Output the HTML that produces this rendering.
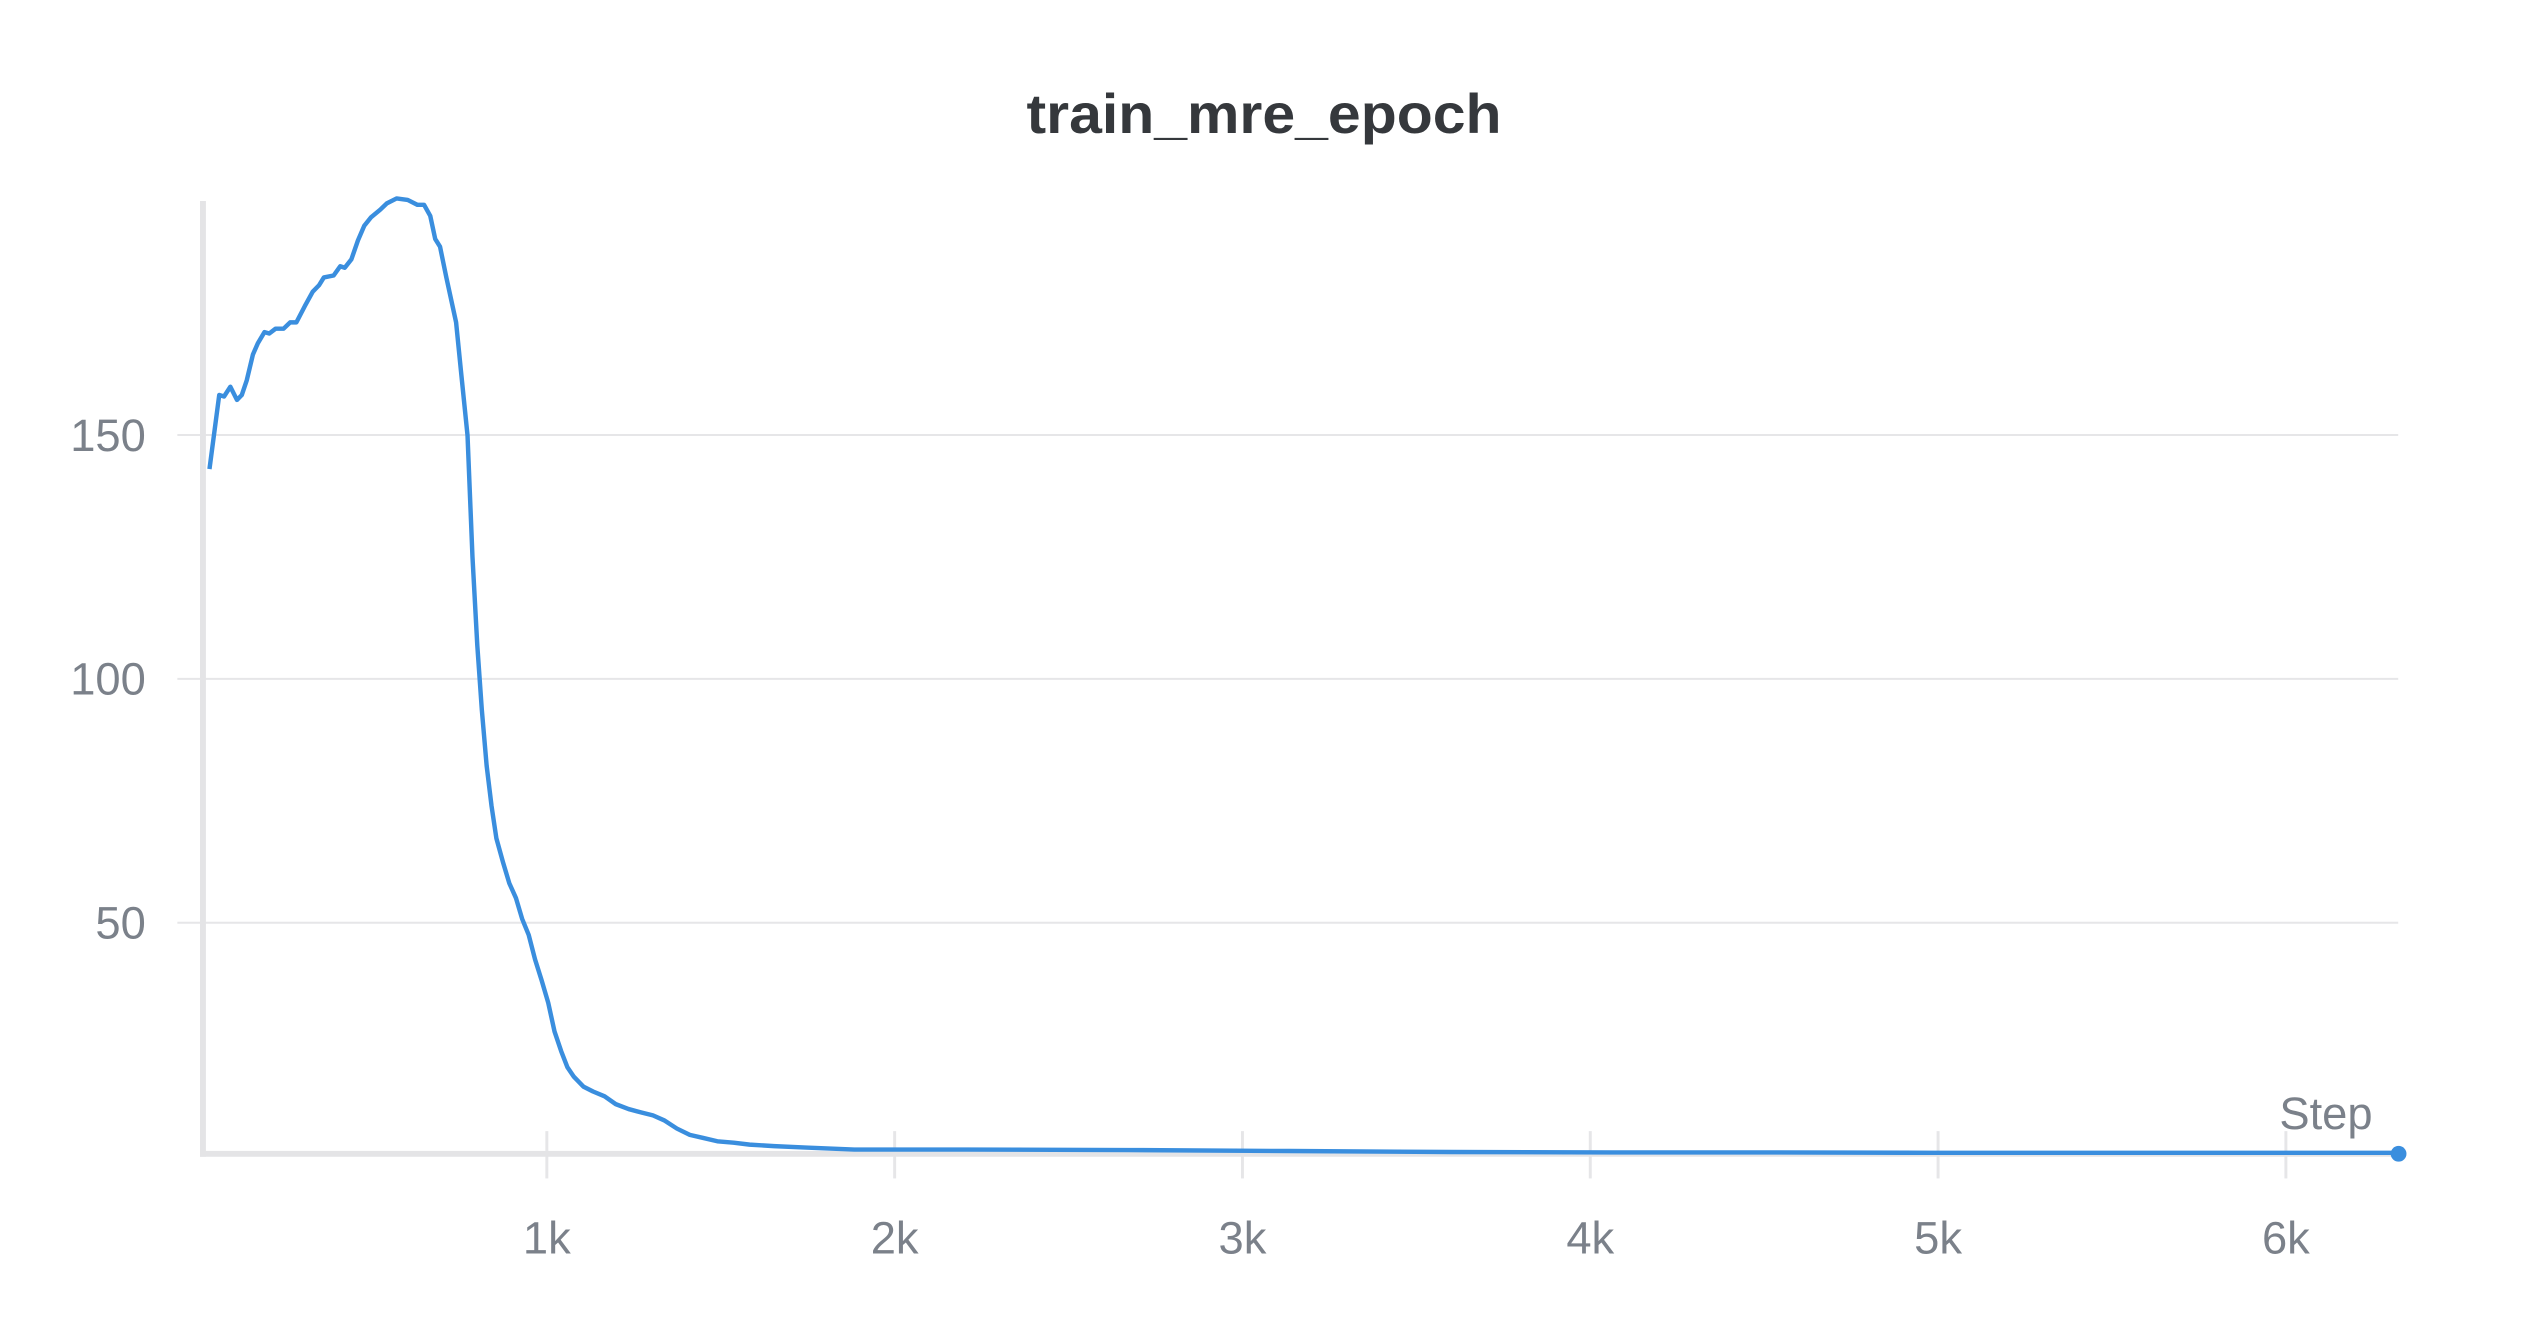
<!DOCTYPE html>
<html><head><meta charset="utf-8"><style>
html,body{margin:0;padding:0;background:#fff;}
svg{display:block;font-family:"Liberation Sans",sans-serif;}
</style></head><body>
<svg id="chart" width="2528" height="1328" viewBox="0 0 2528 1328" xmlns="http://www.w3.org/2000/svg">
<text x="1264" y="133" text-anchor="middle" font-size="56" font-weight="bold" fill="#35383c" textLength="475" lengthAdjust="spacingAndGlyphs">train_mre_epoch</text>
<g transform="scale(0.9853)">
<g id="grid"></g>
<g id="axes"></g>
<g id="series"></g>
</g>
</svg>
<script>
const steps = [30,58,72,90,109,123,137,155,169,188,202,220,243,262,280,304,327,345,359,387,406,419,438,457,475,494,521,540,568,600,628,647,665,679,693,711,739,753,772,786,800,813,827,841,855,874,892,911,929,948,966,985,1004,1022,1041,1059,1078,1105,1133,1166,1198,1235,1272,1305,1337,1374,1411,1448,1490,1537,1583,1653,1745,1884,2209,2672,3136,3599,4063,4526,4990,5453,5917,6324];
const values = [143.0,158.2,157.9,159.9,157.2,158.2,161.2,166.5,168.8,171.1,170.8,171.8,171.8,173.1,173.1,176.4,179.4,180.7,182.3,182.7,184.6,184.3,186.0,189.9,192.9,194.6,196.2,197.5,198.5,198.2,197.2,197.2,194.9,190.2,188.6,182.3,173.1,163.2,149.9,125.1,106.9,93.7,82.2,73.9,67.3,62.4,58.1,55.1,50.8,47.5,42.5,38.2,33.6,27.7,23.7,20.4,18.4,16.4,15.4,14.4,12.8,11.8,11.1,10.5,9.5,7.8,6.5,5.9,5.2,4.9,4.5,4.2,3.9,3.5,3.5,3.4,3.2,3.0,2.9,2.9,2.8,2.7,2.7,2.5];
const yTicks = [50,100,150];
const xTicks = [1000,2000,3000,4000,5000,6000];
const xTickLabels = ["1k","2k","3k","4k","5k","6k"];

const NS="http://www.w3.org/2000/svg";
function X(s){return 202 + s*0.353;}
function Y(v){return 1184 - v*4.95;}
function mk(tag,attrs,parent,txt){const e=document.createElementNS(NS,tag);for(const k in attrs)e.setAttribute(k,attrs[k]);if(txt!==undefined)e.textContent=txt;parent.appendChild(e);return e;}
const grid=document.getElementById('grid'),axes=document.getElementById('axes'),series=document.getElementById('series');
const plotL=206, plotR=2434, axisY=1171;
yTicks.forEach(v=>{
  const l=mk('line',{x1:180,x2:plotR,y1:Y(v),y2:Y(v),stroke:'#e6e6e8','stroke-width':2},grid);
  
  
  const t=mk('text',{x:148,y:Y(v)+16,'text-anchor':'end','font-size':46,fill:'#7b818a'},axes,String(v));
  
  
});
xTicks.forEach((s,i)=>{
  const l=mk('line',{x1:X(s),x2:X(s),y1:1148,y2:1196,stroke:'#e6e6e8','stroke-width':3},grid);
  
  
  const t=mk('text',{x:X(s),y:1272,'text-anchor':'middle','font-size':46,fill:'#7b818a'},axes,xTickLabels[i]);
  
  
});
const ya=mk('line',{x1:plotL,x2:plotL,y1:204,y2:1174,stroke:'#e4e4e6','stroke-width':6},axes);


const xa=mk('line',{x1:plotL-3,x2:plotR,y1:axisY,y2:axisY,stroke:'#e4e4e6','stroke-width':6},axes);


const st=mk('text',{x:2408,y:1146,'text-anchor':'end','font-size':46,fill:'#7b818a'},axes,'Step');


let d='';
steps.forEach((s,i)=>{d+=(i?'L':'M')+X(s).toFixed(1)+' '+Math.min(Y(values[i]),1170).toFixed(1);});
const p=mk('path',{d:d,fill:'none',stroke:'#3a8ede','stroke-width':4.5,'stroke-linejoin':'round'},series);


const n=steps.length-1;
const c=mk('circle',{cx:X(steps[n]),cy:axisY,r:8,fill:'#3a8ede'},series);


</script>
</body></html>
